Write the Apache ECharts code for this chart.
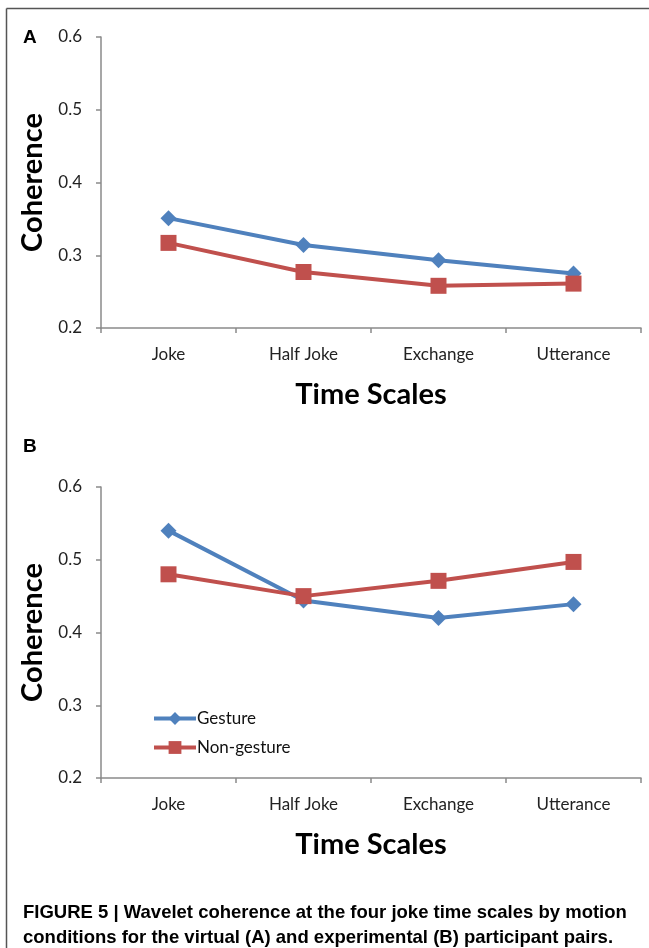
<!DOCTYPE html>
<html>
<head>
<meta charset="utf-8">
<script src="https://cdn.jsdelivr.net/npm/echarts@6/dist/echarts.min.js"></script>
<style>
html,body{margin:0;padding:0;background:#fff;}
#c{width:649px;height:948px;}
</style>
</head>
<body>
<div id="c"></div>
<script>
const categories = ['Joke', 'Half Joke', 'Exchange', 'Utterance'];
const seriesNames = ['Gesture', 'Non-gesture'];
const gestureA = [0.351, 0.314, 0.293, 0.275];
const nonGestureA = [0.317, 0.277, 0.258, 0.261];
const gestureB = [0.540, 0.444, 0.420, 0.439];
const nonGestureB = [0.480, 0.450, 0.471, 0.497];
const yTicks = [0.2, 0.3, 0.4, 0.5, 0.6];
const captionLines = [
  'FIGURE 5 | Wavelet coherence at the four joke time scales by motion',
  'conditions for the virtual (A) and experimental (B) participant pairs.'
];

const BLUE = '#4F81BD', RED = '#C0504D';
const tickFont = 'Lato, "Open Sans", sans-serif';
const grids = [
  {left: 101, right: 8, top: 37, height: 291},
  {left: 101, right: 8, top: 487, height: 291}
];
function xAxis(i){
  return {
    type: 'category', gridIndex: i, data: categories, boundaryGap: true,
    axisLine: {lineStyle: {color: '#8a8a8a', width: 1.5}},
    axisTick: {show: true, length: 5, alignWithLabel: false, lineStyle: {color: '#8a8a8a', width: 1.5}},
    axisLabel: {color: '#222', fontSize: 17, fontFamily: tickFont, margin: 18},
    name: 'Time Scales', nameLocation: 'middle', nameGap: 52,
    nameTextStyle: {color: '#000', fontSize: 29, fontWeight: 'bold', fontFamily: tickFont}
  };
}
function yAxis(i){
  return {
    type: 'value', gridIndex: i, min: yTicks[0], max: yTicks[yTicks.length-1], interval: 0.1,
    axisLine: {show: true, lineStyle: {color: '#8a8a8a', width: 1.5}},
    axisTick: {show: true, length: 5, lineStyle: {color: '#8a8a8a', width: 1.5}},
    splitLine: {show: false},
    axisLabel: {color: '#222', fontSize: 17, fontFamily: tickFont, margin: 19, formatter: v => v.toFixed(1)},
    name: 'Coherence', nameLocation: 'middle', nameGap: 53, nameRotate: 90,
    nameTextStyle: {color: '#000', fontSize: 29, fontWeight: 'bold', fontFamily: tickFont}
  };
}
function line(name, data, i, color, symbol, size){
  return {
    name: name, type: 'line', xAxisIndex: i, yAxisIndex: i, data: data,
    symbol: symbol, symbolSize: size, showSymbol: true,
    lineStyle: {color: color, width: 4},
    itemStyle: {color: color},
    emphasis: {disabled: true}, animation: false
  };
}
const chart = echarts.init(document.getElementById('c'), null, {renderer: 'canvas'});
chart.setOption({
  animation: false,
  backgroundColor: '#fff',
  grid: grids,
  xAxis: [xAxis(0), xAxis(1)],
  yAxis: [yAxis(0), yAxis(1)],
  legend: {
    data: [seriesNames[0], seriesNames[1]],
    orient: 'vertical', left: 147, top: 705,
    itemWidth: 42, itemHeight: 16, itemGap: 12,
    lineStyle: {width: 4},
    textStyle: {color: '#111', fontSize: 17, fontFamily: tickFont, padding: [0,0,0,-4]}
  },
  series: [
    line(seriesNames[0], gestureA, 0, BLUE, 'diamond', 16),
    line(seriesNames[1], nonGestureA, 0, RED, 'rect', 16),
    line(seriesNames[0], gestureB, 1, BLUE, 'diamond', 16),
    line(seriesNames[1], nonGestureB, 1, RED, 'rect', 16)
  ],
  graphic: [
    {type: 'line', shape: {x1: 6.5, y1: 8.5, x2: 649, y2: 8.5}, style: {stroke: '#555', lineWidth: 1.5}},
    {type: 'line', shape: {x1: 6.5, y1: 8.5, x2: 6.5, y2: 948}, style: {stroke: '#555', lineWidth: 1.5}},
    {type: 'text', left: 23, top: 28, style: {text: 'A', font: 'bold 19px "Liberation Sans", Arial, sans-serif', fill: '#000'}},
    {type: 'text', left: 23, top: 437, style: {text: 'B', font: 'bold 19px "Liberation Sans", Arial, sans-serif', fill: '#000'}},
    {type: 'text', left: 23, top: 903, style: {text: captionLines[0], font: 'bold 18.5px "Liberation Sans", Arial, sans-serif', fill: '#000'}},
    {type: 'text', left: 23, top: 928, style: {text: captionLines[1], font: 'bold 18.5px "Liberation Sans", Arial, sans-serif', fill: '#000'}}
  ]
});
</script>
</body>
</html>
